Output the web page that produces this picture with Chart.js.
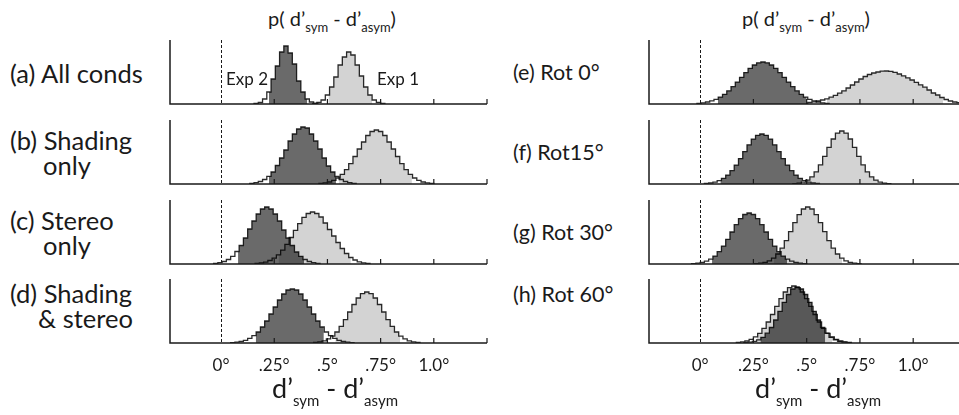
<!DOCTYPE html>
<html>
<head>
<meta charset="utf-8">
<script src="https://cdn.jsdelivr.net/npm/chart.js@4"></script>
<style>
body { margin: 0; background: #fff; }
#fig { position: relative; width: 959px; height: 415px; overflow: hidden; font-family: Lato, sans-serif; color: #1a1a1a; }
#fig canvas { position: absolute; }
.txt { position: absolute; white-space: nowrap; line-height: 24px; }
.lab0 { font-size: 25.5px; }
.lab1 { font-size: 21.5px; }
.ttl { font-size: 20px; transform: translateX(-50%); }
.ttl sub { font-size: 13px; vertical-align: -0.45em; line-height: 0; }
.xt { font-size: 27px; transform: translateX(-50%); }
.xt sub { font-size: 15px; vertical-align: -0.55em; line-height: 0; }
.exp { font-size: 17px; }
</style>
</head>
<body>
<div id="fig"></div>
<script>
'use strict';

const BIN = 0.02;

const panelLabels = [
  ['(a) All conds'], ['(b) Shading', 'only'], ['(c) Stereo', 'only'], ['(d) Shading', '& stereo'],
  ['(e) Rot 0°'], ['(f) Rot15°'], ['(g) Rot 30°'], ['(h) Rot 60°']
];

const tickValues = [0, 0.25, 0.5, 0.75, 1.0];
const tickLabels = ['0°', '.25°', '.5°', '.75°', '1.0°'];
const tickMarks = [0.25, 0.5, 0.75, 1.0, 1.25];

// centre of first bin for each panel
const darkStart = [0.165, 0.145, -0.025, 0.055, -0.005, 0.03, -0.03, 0.215];
const lightStart = [0.44, 0.47, 0.17, 0.445, 0.515, 0.445, 0.265, 0.18];
// shaded (central) part of each distribution
const darkBand = [[0.225, 0.405], [0.225, 0.54], [0.08, 0.39], [0.163, 0.483], [0.083, 0.5], [0.095, 0.478], [0.056, 0.408], [0.283, 0.587]];
const lightBand = [[0.505, 0.71], [0.553, 0.897], [0.27, 0.61], [0.537, 0.842], [0.595, 1.14], [0.486, 0.83], [0.345, 0.666], [0.267, 0.62]];

const aDark = [0.5, 1.5, 5, 12, 25, 38, 52, 58, 51, 40, 23, 12, 5, 2, 0.5];
const aLight = [0.6, 1.6, 4, 9, 17, 27, 39, 47, 52, 49, 39, 28, 17, 9, 4, 1.6, 0.6];
const bDark = [0.6, 1.3, 2.5, 4.5, 7.7, 12, 18.5, 26, 34, 43, 50, 55, 57, 56, 50, 43, 35, 26, 18, 12, 7.5, 4.5, 2.5, 1.3, 0.6];
const bLight = [0.6, 1.1, 2, 3.6, 6, 9.6, 14.4, 20.4, 27.5, 35, 42, 48.5, 52.5, 54, 52.5, 48.5, 42, 35, 27.5, 20.4, 14.4, 9.6, 6, 3.6, 2, 1.1, 0.6];
const cDark = [0.6, 1.3, 2.5, 4.5, 7.7, 12.5, 18.5, 26, 35, 43, 50, 55, 57, 55, 50, 43, 34, 26, 18.5, 12, 7.7, 4.5, 2.5, 1.3, 0.6];
const cLight = [0.6, 1, 1.9, 3.5, 5.8, 9.2, 13.9, 19.6, 26.5, 33.7, 40.4, 46.7, 50.5, 52, 50.5, 47, 41, 34.5, 28, 21.5, 15.5, 10.5, 6.5, 4, 2.2, 1.2, 0.6];
const dDark = [0.4, 0.8, 1.5, 2.7, 4.6, 7.3, 11, 16, 22, 29, 36, 43, 49, 53, 54, 53, 49, 43, 36, 29, 22, 16, 11, 7.3, 4.6, 2.7, 1.5, 0.8, 0.4];
const dLight = [0.6, 1.2, 2.2, 4.1, 6.9, 11, 16.6, 23.4, 31, 38.5, 45, 49.4, 51, 49.4, 45, 38.5, 31, 23.4, 16.6, 11, 6.9, 4.1, 2.2, 1.2, 0.6];
const eDark = [0.7, 1.2, 2, 3.1, 4.7, 6.9, 9.7, 13.2, 17.3, 21.9, 26.7, 31.4, 35.7, 39, 41.2, 42, 41.2, 39, 35.7, 31.4, 26.7, 21.9, 17.3, 13.2, 9.7, 6.9, 4.7, 3.1, 2, 1.2, 0.7];
const eLight = [1.5, 2.2, 3, 4, 5.2, 6.8, 8.6, 10.8, 13.2, 16, 19, 22, 25, 27.5, 29.5, 31, 32, 32.8, 33, 32.6, 31.6, 30, 28.2, 26.2, 24, 21.6, 19.2, 16.8, 14, 11, 9, 6.5, 4.5, 3, 2, 1.3, 0.8];
const fDark = [0.5, 1, 1.9, 3.4, 5.6, 8.9, 13.3, 18.9, 25.4, 32.4, 39.2, 44.9, 48.7, 50, 48.7, 44.9, 39.2, 32.4, 25.4, 18.9, 13.3, 8.9, 5.6, 3.4, 1.9, 1, 0.5];
const fLight = [0.4, 0.9, 1.9, 3.9, 7.2, 12.2, 19.1, 27.6, 36.7, 45, 50.9, 53, 50.9, 45, 36.7, 27.6, 19.1, 12.2, 7.2, 3.9, 1.9, 0.9, 0.4];
const gDark = [0.4, 0.8, 1.5, 2.8, 4.9, 7.9, 12.3, 17.9, 24.7, 32, 39.3, 45.4, 49.5, 51, 49.5, 45.4, 39.3, 32, 24.7, 17.9, 12.3, 7.9, 4.9, 2.8, 1.5, 0.8, 0.4];
const gLight = [0.4, 0.8, 1.6, 3.2, 5.8, 10, 15.8, 23.4, 32.3, 41.4, 49.4, 55, 57, 55, 49.4, 41.4, 32.3, 23.4, 15.8, 10, 5.8, 3.2, 1.6, 0.8, 0.4];
const hDark = [0.4, 0.8, 1.6, 3.1, 5.7, 9.8, 15.5, 23, 31.7, 40.7, 48.5, 54, 56, 54, 48.5, 40.7, 31.7, 23, 15.5, 9.8, 5.7, 3.1, 1.6, 0.8, 0.4];
const hLight = [0.5, 1.1, 2, 3.6, 6.1, 9.7, 14.7, 21, 28.5, 36.6, 44.4, 51, 55.4, 57, 55.4, 51, 44.4, 36.6, 28.5, 21, 14.7, 9.7, 6.1, 3.6, 2, 1.1, 0.5];

const darkSeries = [aDark, bDark, cDark, dDark, eDark, fDark, gDark, hDark];
const lightSeries = [aLight, bLight, cLight, dLight, eLight, fLight, gLight, hLight];

// layout
const colLeft = [170, 649];
const colRight = [487, 959];
const xMax = [1.25, 1.215];
const xMin = -0.24;
const rowTop = [40, 120, 200, 279];
const PANEL_H = 64;
const PAD = 4;
const AXIS_H = 36;
const labelX = [10, 513];
const labelY = [73, 140, 220, 293, 72, 152, 232, 294];
const secondIndent = [0, 33, 33, 28];

const DARK = '#6a6a6a', LIGHT = '#d3d3d3', EDGE = '#2b2b2b', INK = '#1a1a1a';

const fig = document.getElementById('fig');

function addText(cls, html, x, y) {
  const d = document.createElement('div');
  d.className = 'txt ' + cls;
  d.innerHTML = html;
  d.style.left = x + 'px';
  d.style.top = y + 'px';
  fig.appendChild(d);
}

// step outline points: stepped 'before' keeps each bin's height across the bin
function histPoints(start, heights) {
  const e0 = start - BIN / 2;
  const pts = [{x: e0, y: 0}];
  heights.forEach((h, i) => pts.push({x: e0 + i * BIN, y: h}));
  pts.push({x: e0 + heights.length * BIN, y: 0});
  return pts;
}

function bandPoints(pts, lo, hi) {
  let at = 0;
  pts.forEach(p => { if (p.x <= lo) at = p.y; });
  const out = [{x: lo, y: 0}, {x: lo, y: at}];
  pts.forEach(p => { if (p.x > lo && p.x < hi) out.push(p); });
  out.push({x: hi, y: 0});
  return out;
}

const panelDeco = {
  id: 'panelDeco',
  beforeDatasetsDraw(chart) {
    chart.ctx.save();
    chart.ctx.globalCompositeOperation = 'multiply';
  },
  afterDatasetsDraw(chart) {
    chart.ctx.restore();
  },
  afterDraw(chart) {
    const {ctx, chartArea: a, scales: {x}} = chart;
    ctx.save();
    ctx.strokeStyle = INK;
    ctx.lineWidth = 1.5;
    ctx.beginPath();
    ctx.moveTo(a.left, a.top);
    ctx.lineTo(a.left, a.bottom);
    ctx.lineTo(a.right, a.bottom);
    ctx.stroke();
    ctx.lineWidth = 1.2;
    ctx.beginPath();
    tickMarks.forEach(v => {
      const px = x.getPixelForValue(v);
      if (px <= a.right + 1) {
        ctx.moveTo(px, a.bottom);
        ctx.lineTo(px, a.bottom - 5);
      }
    });
    ctx.stroke();
    ctx.lineWidth = 1;
    ctx.setLineDash([3, 2]);
    const z = Math.round(x.getPixelForValue(0)) + 0.5;
    ctx.beginPath();
    ctx.moveTo(z, a.top);
    ctx.lineTo(z, a.bottom);
    ctx.stroke();
    ctx.restore();
  }
};

panelLabels.forEach((lines, k) => {
  const col = k < 4 ? 0 : 1;
  const row = k % 4;
  const bottomPanel = row === 3;
  const w = colRight[col] - colLeft[col] + PAD * 2;
  const h = PANEL_H + PAD + (bottomPanel ? AXIS_H : PAD);
  const cv = document.createElement('canvas');
  cv.width = w;
  cv.height = h;
  cv.style.left = (colLeft[col] - PAD) + 'px';
  cv.style.top = (rowTop[row] - PAD) + 'px';
  fig.appendChild(cv);

  const dPts = histPoints(darkStart[k], darkSeries[k]);
  const lPts = histPoints(lightStart[k], lightSeries[k]);
  const line = (pts) => ({data: pts, stepped: 'before', borderColor: EDGE, borderWidth: 1.3, fill: false, pointRadius: 0});
  const band = (pts, c) => ({data: pts, stepped: 'before', borderWidth: 0, borderColor: 'transparent', backgroundColor: c, fill: 'origin', pointRadius: 0});

  const xScale = {
    type: 'linear', min: xMin, max: xMax[col], display: bottomPanel,
    grid: {display: false, drawTicks: false},
    border: {display: false},
    ticks: {
      autoSkip: false, maxRotation: 0, padding: 12, color: INK,
      font: {family: 'Lato', size: 17},
      callback: (v, i) => tickLabels[i]
    }
  };
  if (bottomPanel) {
    xScale.afterBuildTicks = s => { s.ticks = tickValues.map(v => ({value: v})); };
    xScale.afterFit = s => { s.height = AXIS_H; };
  }

  new Chart(cv, {
    type: 'line',
    data: {
      datasets: [
        line(dPts),
        line(lPts),
        band(bandPoints(dPts, darkBand[k][0], darkBand[k][1]), DARK),
        band(bandPoints(lPts, lightBand[k][0], lightBand[k][1]), LIGHT)
      ]
    },
    options: {
      animation: false,
      responsive: false,
      maintainAspectRatio: false,
      devicePixelRatio: 1,
      events: [],
      layout: {padding: {left: PAD, right: PAD, top: PAD, bottom: bottomPanel ? 0 : PAD}},
      plugins: {legend: {display: false}, tooltip: {enabled: false}},
      scales: {
        x: xScale,
        y: {min: 0, max: PANEL_H, display: false}
      }
    },
    plugins: [panelDeco]
  });

  const cls = 'lab' + col;
  addText(cls, lines[0], labelX[col], labelY[k] - 12);
  if (lines[1]) addText(cls, lines[1], labelX[col] + secondIndent[row], labelY[k] + 13);
});

const pTitle = 'p( d’<sub>sym</sub> - d’<sub>asym</sub>)';
const xTitle = 'd’<sub>sym</sub> - d’<sub>asym</sub>';
addText('ttl', pTitle, 332, 6);
addText('ttl', pTitle, 806, 6);
addText('xt', xTitle, 335, 376);
addText('xt', xTitle, 818, 376);
addText('exp', 'Exp 2', 226, 67);
addText('exp', 'Exp 1', 377, 67);
</script>
</body>
</html>
